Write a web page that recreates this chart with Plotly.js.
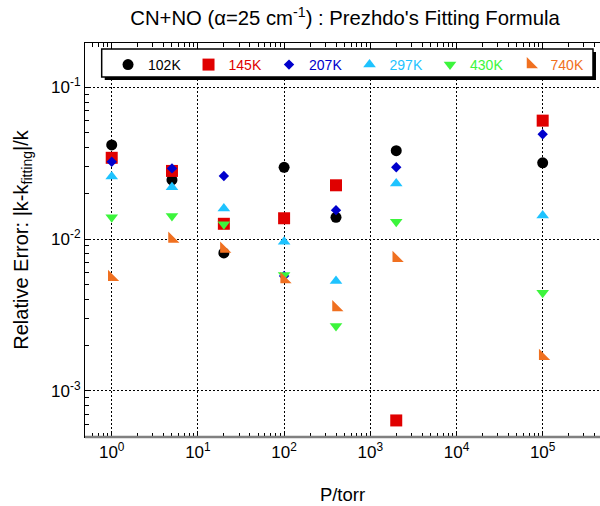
<!DOCTYPE html>
<html><head><meta charset="utf-8">
<script src="https://cdn.plot.ly/plotly-3.0.1.min.js"></script>
<style>html,body{margin:0;padding:0;background:#fff}</style>
</head><body><div id="chart" style="width:600px;height:506px"></div>
<script>
// Data
const pressure = [1, 5, 20, 100, 400, 2000, 100000];
const tempLabels = ['102K', '145K', '207K', '297K', '430K', '740K'];
const err102 = [0.0417, 0.0245, 0.0081, 0.0297, 0.0139, 0.0382, 0.0318];
const err145 = [0.0343, 0.0281, 0.0126, 0.0137, 0.0226, 0.000637, 0.0603];
const err207 = [0.0323, 0.0292, 0.0260, 0.0057, 0.0155, 0.0297, 0.0490];
const err297 = [0.0258, 0.0219, 0.0159, 0.0096, 0.00528, 0.0232, 0.0143];
const err430 = [0.0139, 0.0142, 0.0125, 0.0058, 0.00267, 0.0130, 0.00443];
const err740 = [0.00559, 0.0100, 0.0086, 0.0054, 0.00354, 0.00747, 0.00169];
const xTickVals = [1, 10, 100, 1000, 10000, 100000];
const xTickText = ['10<sup>0</sup>', '10<sup>1</sup>', '10<sup>2</sup>', '10<sup>3</sup>', '10<sup>4</sup>', '10<sup>5</sup>'];
const yTickVals = [0.001, 0.01, 0.1];
const yTickText = ['10<sup>-3</sup>', '10<sup>-2</sup>', '10<sup>-1</sup>'];

// Styles
const series = [err102, err145, err207, err297, err430, err740];
const colors = ['#000000', '#e00000', '#0000cc', '#1ec3ff', '#3cf53c', '#f07020'];
const symbols = ['circle', 'square', 'diamond', 'triangle-up', 'triangle-down', 'triangle-sw'];
const sizes = [11, 12, 8, 11, 11, 12.5];

// minor tick positions (2..9 per decade)
function minorTicks(lo, hi) {
  const out = [];
  for (let e = lo; e <= hi; e++) for (let m = 2; m <= 9; m++) out.push(m * Math.pow(10, e));
  return out;
}

const FONT = 'Liberation Sans, Arial, sans-serif';
const traces = series.map((ys, i) => ({
  type: 'scatter', mode: 'markers',
  x: pressure, y: ys,
  name: '<span style="color:' + colors[i] + '">' + tempLabels[i] + '</span>',
  marker: {symbol: symbols[i], size: sizes[i], color: colors[i], line: {width: 0}},
  cliponaxis: false
}));

const layout = {
  width: 600, height: 506,
  margin: {l: 85, r: 0, t: 43, b: 69},
  paper_bgcolor: '#fff', plot_bgcolor: '#fff',
  font: {family: FONT, color: '#000'},
  title: {text: 'CN+NO (\u03b1=25 cm<sup>-1</sup>) : Prezhdo\'s Fitting Formula',
          font: {size: 20.3, family: FONT, color: '#000'}, x: 0.575, xanchor: 'center', y: 0.964, yanchor: 'middle'},
  showlegend: true,
  legend: {orientation: 'h', x: 0.0447, y: 0.9848, xanchor: 'left', yanchor: 'top',
           bgcolor: 'rgba(0,0,0,0)', borderwidth: 0,
           font: {size: 14, family: FONT}, entrywidth: 35.5, entrywidthmode: 'pixels'},
  xaxis: {type: 'log', range: [-0.31, 5.665],
          tickmode: 'array', tickvals: xTickVals, ticktext: xTickText,
          ticks: 'inside', ticklen: 6, tickcolor: '#000',
          minor: {tickmode: 'array', tickvals: minorTicks(-1, 5), ticks: 'inside', ticklen: 4, tickcolor: '#000', showgrid: false},
          showline: true, linecolor: '#000', linewidth: 1, mirror: 'allticks',
          showgrid: true, gridcolor: '#000', gridwidth: 1, griddash: '2px,2px',
          tickfont: {size: 17, family: FONT},
          title: {text: 'P/torr', font: {size: 18.5, family: FONT}, standoff: 26},
          automargin: false},
  yaxis: {type: 'log', range: [-3.305, -0.708],
          tickmode: 'array', tickvals: yTickVals, ticktext: yTickText,
          ticks: 'inside', ticklen: 6, tickcolor: '#000',
          minor: {tickmode: 'array', tickvals: minorTicks(-4, -1), ticks: 'inside', ticklen: 4, tickcolor: '#000', showgrid: false},
          showline: true, linecolor: '#000', linewidth: 1, mirror: false,
          showgrid: true, gridcolor: '#000', gridwidth: 1, griddash: '2px,2px',
          tickfont: {size: 17, family: FONT},
          title: {text: 'Relative Error: |k-k<sub>fitting</sub>|/k', font: {size: 20, family: FONT}, standoff: 17},
          automargin: false},
  shapes: [
    // legend shadow
    {type: 'rect', xref: 'paper', yref: 'paper', x0: 0.0383, x1: 0.9922, y0: 0.9061, y1: 0.9772,
     fillcolor: '#000', line: {width: 0}, layer: 'above'},
    // legend box
    {type: 'rect', xref: 'paper', yref: 'paper', x0: 0.0324, x1: 0.9864, y0: 0.9137, y1: 0.9848,
     fillcolor: '#fff', line: {color: '#000', width: 1.5}, layer: 'above'},
    // bottom axis (grey, thick)
    {type: 'line', xref: 'paper', yref: 'paper', x0: 0, x1: 1, y0: 0, y1: 0,
     line: {color: '#808080', width: 2.5}, layer: 'above'}
  ]
};

Plotly.newPlot('chart', traces, layout, {staticPlot: true, displayModeBar: false});
</script>
</body></html>
